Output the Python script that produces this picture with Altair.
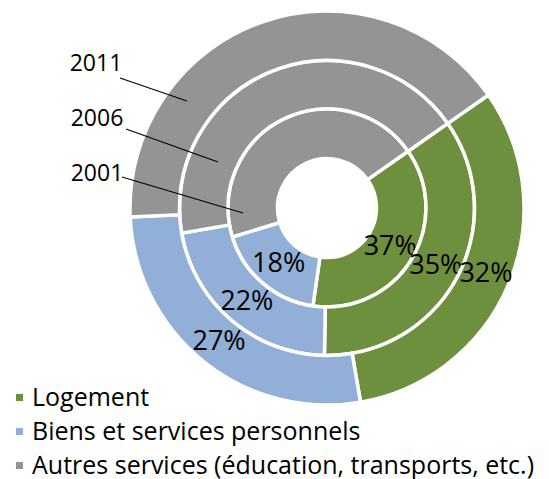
import math
import altair as alt
import pandas as pd

categories = ["Logement", "Biens et services personnels",
              "Autres services (éducation, transports, etc.)"]
years = ["2001", "2006", "2011"]
share_2001 = [37, 18, 45]
share_2006 = [35, 22, 43]
share_2011 = [32, 27, 41]
colors = ["#6E8F3D", "#91AFD7", "#949494"]

rows = []
for yr, vals in zip(years, [share_2001, share_2006, share_2011]):
    for i, (c, v) in enumerate(zip(categories, vals)):
        rows.append({"year": yr, "category": c, "rank": i, "value": v})
df = pd.DataFrame(rows)

W, H = 533, 471
CX, CY = 319, 200
START = math.radians(55)
FONT = "Open Sans"

ring_r = {"2001": (49.5, 99.0), "2006": (99.0, 147.5), "2011": (147.5, 197.0)}

theta_scale = alt.Scale(domain=[0, 100], range=[START, START + 2 * math.pi])
color_scale = alt.Scale(domain=categories, range=colors)

base = alt.Chart(df)

layers = []
for k, yr in enumerate(years):
    r_in, r_out = ring_r[yr]
    legend = None
    if k == 0:
        legend = alt.Legend(title=None, orient="none", legendX=-1, legendY=377,
                            symbolType="square", symbolSize=50,
                            symbolStrokeWidth=0, labelFont=FONT,
                            labelFontSize=25, labelLimit=700,
                            rowPadding=8, labelOffset=0, labelColor="black")
    arc = base.transform_filter(alt.datum.year == yr).mark_arc(
        stroke="white", strokeWidth=3.5
    ).encode(
        theta=alt.Theta("value:Q", stack=True, scale=theta_scale),
        color=alt.Color("category:N", scale=color_scale, legend=legend),
        order=alt.Order("rank:Q", sort="ascending"),
        radius=alt.value(r_out),
        radius2=alt.value(r_in),
        x=alt.value(CX),
        y=alt.value(CY),
    )
    text = base.transform_filter(alt.datum.year == yr).transform_calculate(
        label="datum.rank < 2 ? datum.value + '%' : ''"
    ).mark_text(font=FONT, fontSize=27, color="black",
                align="center", baseline="middle").encode(
        theta=alt.Theta("value:Q", stack=True, scale=theta_scale),
        order=alt.Order("rank:Q", sort="ascending"),
        detail="category:N",
        radius=alt.value((r_in + r_out) / 2),
        x=alt.value(CX),
        y=alt.value(CY),
        text="label:N",
    )
    layers += [arc, text]

# year annotations with leader lines
year_pos = {"2011": ((88, 56), (112, 70, 179, 93)),
            "2006": ((89, 111), (118, 121, 210, 154)),
            "2001": ((89, 166), (114, 169, 235, 205))}
for yr in years:
    (tx, ty), (x1, y1, x2, y2) = year_pos[yr]
    one = alt.Data(values=[{"year": yr}])
    layers.append(alt.Chart(one).mark_rule(color="black", strokeWidth=1.2).encode(
        x=alt.value(x1), y=alt.value(y1), x2=alt.value(x2), y2=alt.value(y2)))
    layers.append(alt.Chart(one).mark_text(font=FONT, fontSize=23, color="black",
                                           align="center", baseline="middle").encode(
        x=alt.value(tx), y=alt.value(ty), text="year:N"))

chart = alt.layer(*layers).properties(
    width=W, height=H, padding=0, autosize=alt.AutoSizeParams(type="none")
).configure_view(stroke=None)

chart.save("out.html", embed_options={"renderer": "svg", "actions": False})
